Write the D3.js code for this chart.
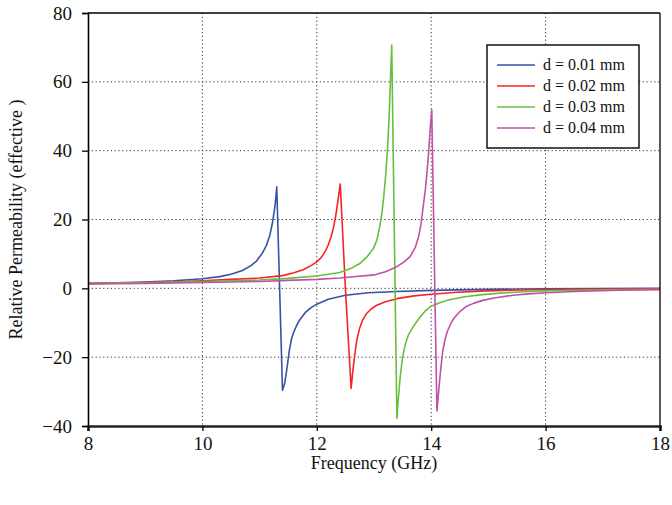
<!DOCTYPE html>
<html>
<head>
<meta charset="utf-8">
<script src="https://cdn.jsdelivr.net/npm/d3@7"></script>
<style>
  html, body { margin: 0; padding: 0; background: #fff; }
  svg { display: block; }
  text { font-family: "Liberation Serif", "Times New Roman", serif; fill: #111; }
</style>
</head>
<body>
<svg id="chart" width="672" height="505"></svg>
<script>
// Effective relative permeability vs frequency for four gap widths d
const seriesLabels = ["d = 0.01 mm", "d = 0.02 mm", "d = 0.03 mm", "d = 0.04 mm"];

const freq001 = [8.0, 8.5, 9.0, 9.5, 10.0, 10.3, 10.5, 10.7, 10.85, 10.95, 11.05, 11.12, 11.18, 11.23, 11.27, 11.3, 11.35, 11.4, 11.44, 11.48, 11.52, 11.56, 11.6, 11.65, 11.7, 11.8, 11.9, 12.0, 12.2, 12.5, 12.9, 13.4, 14.0, 15.0, 16.0, 17.0, 18.0];
const perm001 = [1.45, 1.6, 1.85, 2.2, 2.8, 3.4, 4.1, 5.2, 6.6, 8.0, 10.3, 12.5, 15.5, 19.5, 24, 29.5, 0, -29.6, -27.5, -23, -18, -14.5, -12.6, -10.7, -9.2, -7.0, -5.6, -4.6, -3.2, -2.0, -1.3, -0.9, -0.6, -0.3, -0.15, -0.05, 0.0];

const freq002 = [8.0, 8.5, 9.0, 9.5, 10.0, 10.5, 11.0, 11.4, 11.6, 11.76, 11.9, 12.0, 12.08, 12.15, 12.2, 12.25, 12.29, 12.33, 12.37, 12.41, 12.5, 12.6, 12.63, 12.67, 12.7, 12.75, 12.8, 12.87, 12.95, 13.05, 13.2, 13.4, 13.7, 14.0, 14.4, 14.85, 15.5, 16.5, 18.0];
const perm002 = [1.4, 1.55, 1.7, 1.9, 2.2, 2.6, 3.0, 3.7, 4.5, 5.4, 6.6, 7.7, 9.0, 10.8, 12.6, 15, 17.5, 21, 25.5, 30.3, 0, -29.1, -24, -18.5, -15, -11.5, -9.3, -7.3, -6.0, -4.9, -3.9, -3.0, -2.2, -1.7, -1.2, -0.8, -0.5, -0.25, -0.1];

const freq003 = [8.0, 8.5, 9.0, 9.5, 10.0, 10.5, 11.0, 11.5, 12.0, 12.4, 12.6, 12.76, 12.88, 12.99, 13.05, 13.1, 13.14, 13.17, 13.2, 13.23, 13.26, 13.28, 13.31, 13.4, 13.43, 13.46, 13.5, 13.55, 13.6, 13.69, 13.8, 13.9, 14.0, 14.15, 14.3, 14.56, 14.85, 15.2, 15.6, 16.0, 16.5, 17.0, 18.0];
const perm003 = [1.4, 1.5, 1.6, 1.8, 2.0, 2.2, 2.4, 2.9, 3.6, 4.6, 5.8, 7.3, 9.2, 11.6, 14, 17.9, 22, 26.6, 32, 39, 48, 57, 70.7, -37.8, -31, -25.5, -20, -16, -13.6, -11.0, -8.5, -6.5, -5.2, -4.2, -3.4, -2.5, -1.9, -1.4, -1.0, -0.75, -0.55, -0.4, -0.25];

const freq004 = [8.0, 8.5, 9.0, 9.5, 10.0, 10.5, 11.0, 11.5, 12.0, 12.4, 13.0, 13.2, 13.4, 13.52, 13.63, 13.72, 13.78, 13.82, 13.86, 13.9, 13.93, 13.96, 13.98, 14.01, 14.1, 14.13, 14.16, 14.2, 14.24, 14.28, 14.34, 14.4, 14.5, 14.62, 14.75, 14.9, 15.1, 15.43, 15.7, 16.02, 16.4, 16.78, 17.3, 18.0];
const perm004 = [1.3, 1.35, 1.45, 1.55, 1.7, 1.85, 2.0, 2.3, 2.6, 3.0, 3.9, 4.8, 6.3, 7.6, 9.2, 11.8, 15.0, 18.5, 23.7, 29, 34.4, 40.5, 46, 51.8, -35.6, -30, -24.5, -18.5, -15, -12.6, -10.3, -8.6, -6.8, -5.2, -4.3, -3.5, -2.8, -2.0, -1.6, -1.3, -1.0, -0.75, -0.55, -0.4];

const xTicks = [8, 10, 12, 14, 16, 18];
const yTicks = [-40, -20, 0, 20, 40, 60, 80];

const seriesFreq = [freq001, freq002, freq003, freq004];
const seriesPerm = [perm001, perm002, perm003, perm004];
const seriesColors = ["#3752a6", "#f42424", "#66bf3f", "#c050a9"];

const svg = d3.select("#chart");
const margin = { left: 88, top: 13, right: 12, bottom: 79 };
const W = 672, H = 505;

const x = d3.scaleLinear().domain([8, 18]).range([margin.left, W - margin.right]);
const y = d3.scaleLinear().domain([-40, 80]).range([H - margin.bottom, margin.top]);

// dotted grid
const grid = svg.append("g").attr("stroke", "#333").attr("stroke-width", 1)
  .attr("stroke-dasharray", "1.2,2.6");
grid.selectAll("line.gx").data(xTicks.slice(1, -1)).join("line")
  .attr("x1", d => x(d)).attr("x2", d => x(d))
  .attr("y1", y(80)).attr("y2", y(-40));
grid.selectAll("line.gy").data(yTicks.slice(1, -1)).join("line")
  .attr("x1", x(8)).attr("x2", x(18))
  .attr("y1", d => y(d)).attr("y2", d => y(d));

// curves
const line = d3.line().x(d => x(d[0])).y(d => y(d[1]));
seriesFreq.forEach((fs, i) => {
  const pts = fs.map((f, j) => [f, seriesPerm[i][j]]);
  svg.append("path").datum(pts)
    .attr("d", line)
    .attr("fill", "none")
    .attr("stroke", seriesColors[i])
    .attr("stroke-width", 1.6)
    .attr("stroke-linejoin", "round");
});

// frame
svg.append("line").attr("x1", x(8)).attr("x2", x(18)).attr("y1", y(80)).attr("y2", y(80))
  .attr("stroke", "#000").attr("stroke-width", 1.3);
svg.append("line").attr("x1", x(18)).attr("x2", x(18)).attr("y1", y(80)).attr("y2", y(-40))
  .attr("stroke", "#000").attr("stroke-width", 1.3);

// axes
const yAxis = d3.axisLeft(y).tickValues(yTicks).tickSize(6).tickPadding(10).tickFormat(d3.format("d"));
const gy = svg.append("g").attr("transform", `translate(${x(8)},0)`).call(yAxis);
gy.select(".domain").attr("stroke", "#000").attr("stroke-width", 1.6);
gy.selectAll(".tick line").attr("stroke", "#000").attr("stroke-width", 1.3);
gy.selectAll("text").attr("font-size", 19).style("font-family", "Liberation Serif");

const xAxis = d3.axisBottom(x).tickValues(xTicks).tickSize(5).tickPadding(6).tickFormat(d3.format("d"));
const gx = svg.append("g").attr("transform", `translate(0,${y(-40)})`).call(xAxis);
gx.select(".domain").attr("stroke", "#222").attr("stroke-width", 2.6);
gx.selectAll(".tick line").attr("stroke", "#000").attr("stroke-width", 1.3);
gx.selectAll("text").attr("font-size", 19).style("font-family", "Liberation Serif");

// axis titles
svg.append("text").attr("x", (x(8) + x(18)) / 2).attr("y", 469)
  .attr("text-anchor", "middle").attr("font-size", 18).text("Frequency (GHz)");
svg.append("text")
  .attr("transform", `translate(22,${(y(80) + y(-40)) / 2}) rotate(-90)`)
  .attr("text-anchor", "middle").attr("font-size", 18).text("Relative Permeability (effective )");

// legend
const lg = svg.append("g");
lg.append("rect").attr("x", 487).attr("y", 45).attr("width", 152).attr("height", 103)
  .attr("fill", "#fff").attr("stroke", "#000").attr("stroke-width", 1.4);
seriesLabels.forEach((lab, i) => {
  const yy = 65 + i * 21;
  lg.append("line").attr("x1", 497).attr("x2", 535).attr("y1", yy).attr("y2", yy)
    .attr("stroke", seriesColors[i]).attr("stroke-width", 1.6);
  lg.append("text").attr("x", 543).attr("y", yy + 5).attr("font-size", 16).text(lab);
});
</script>
</body>
</html>
